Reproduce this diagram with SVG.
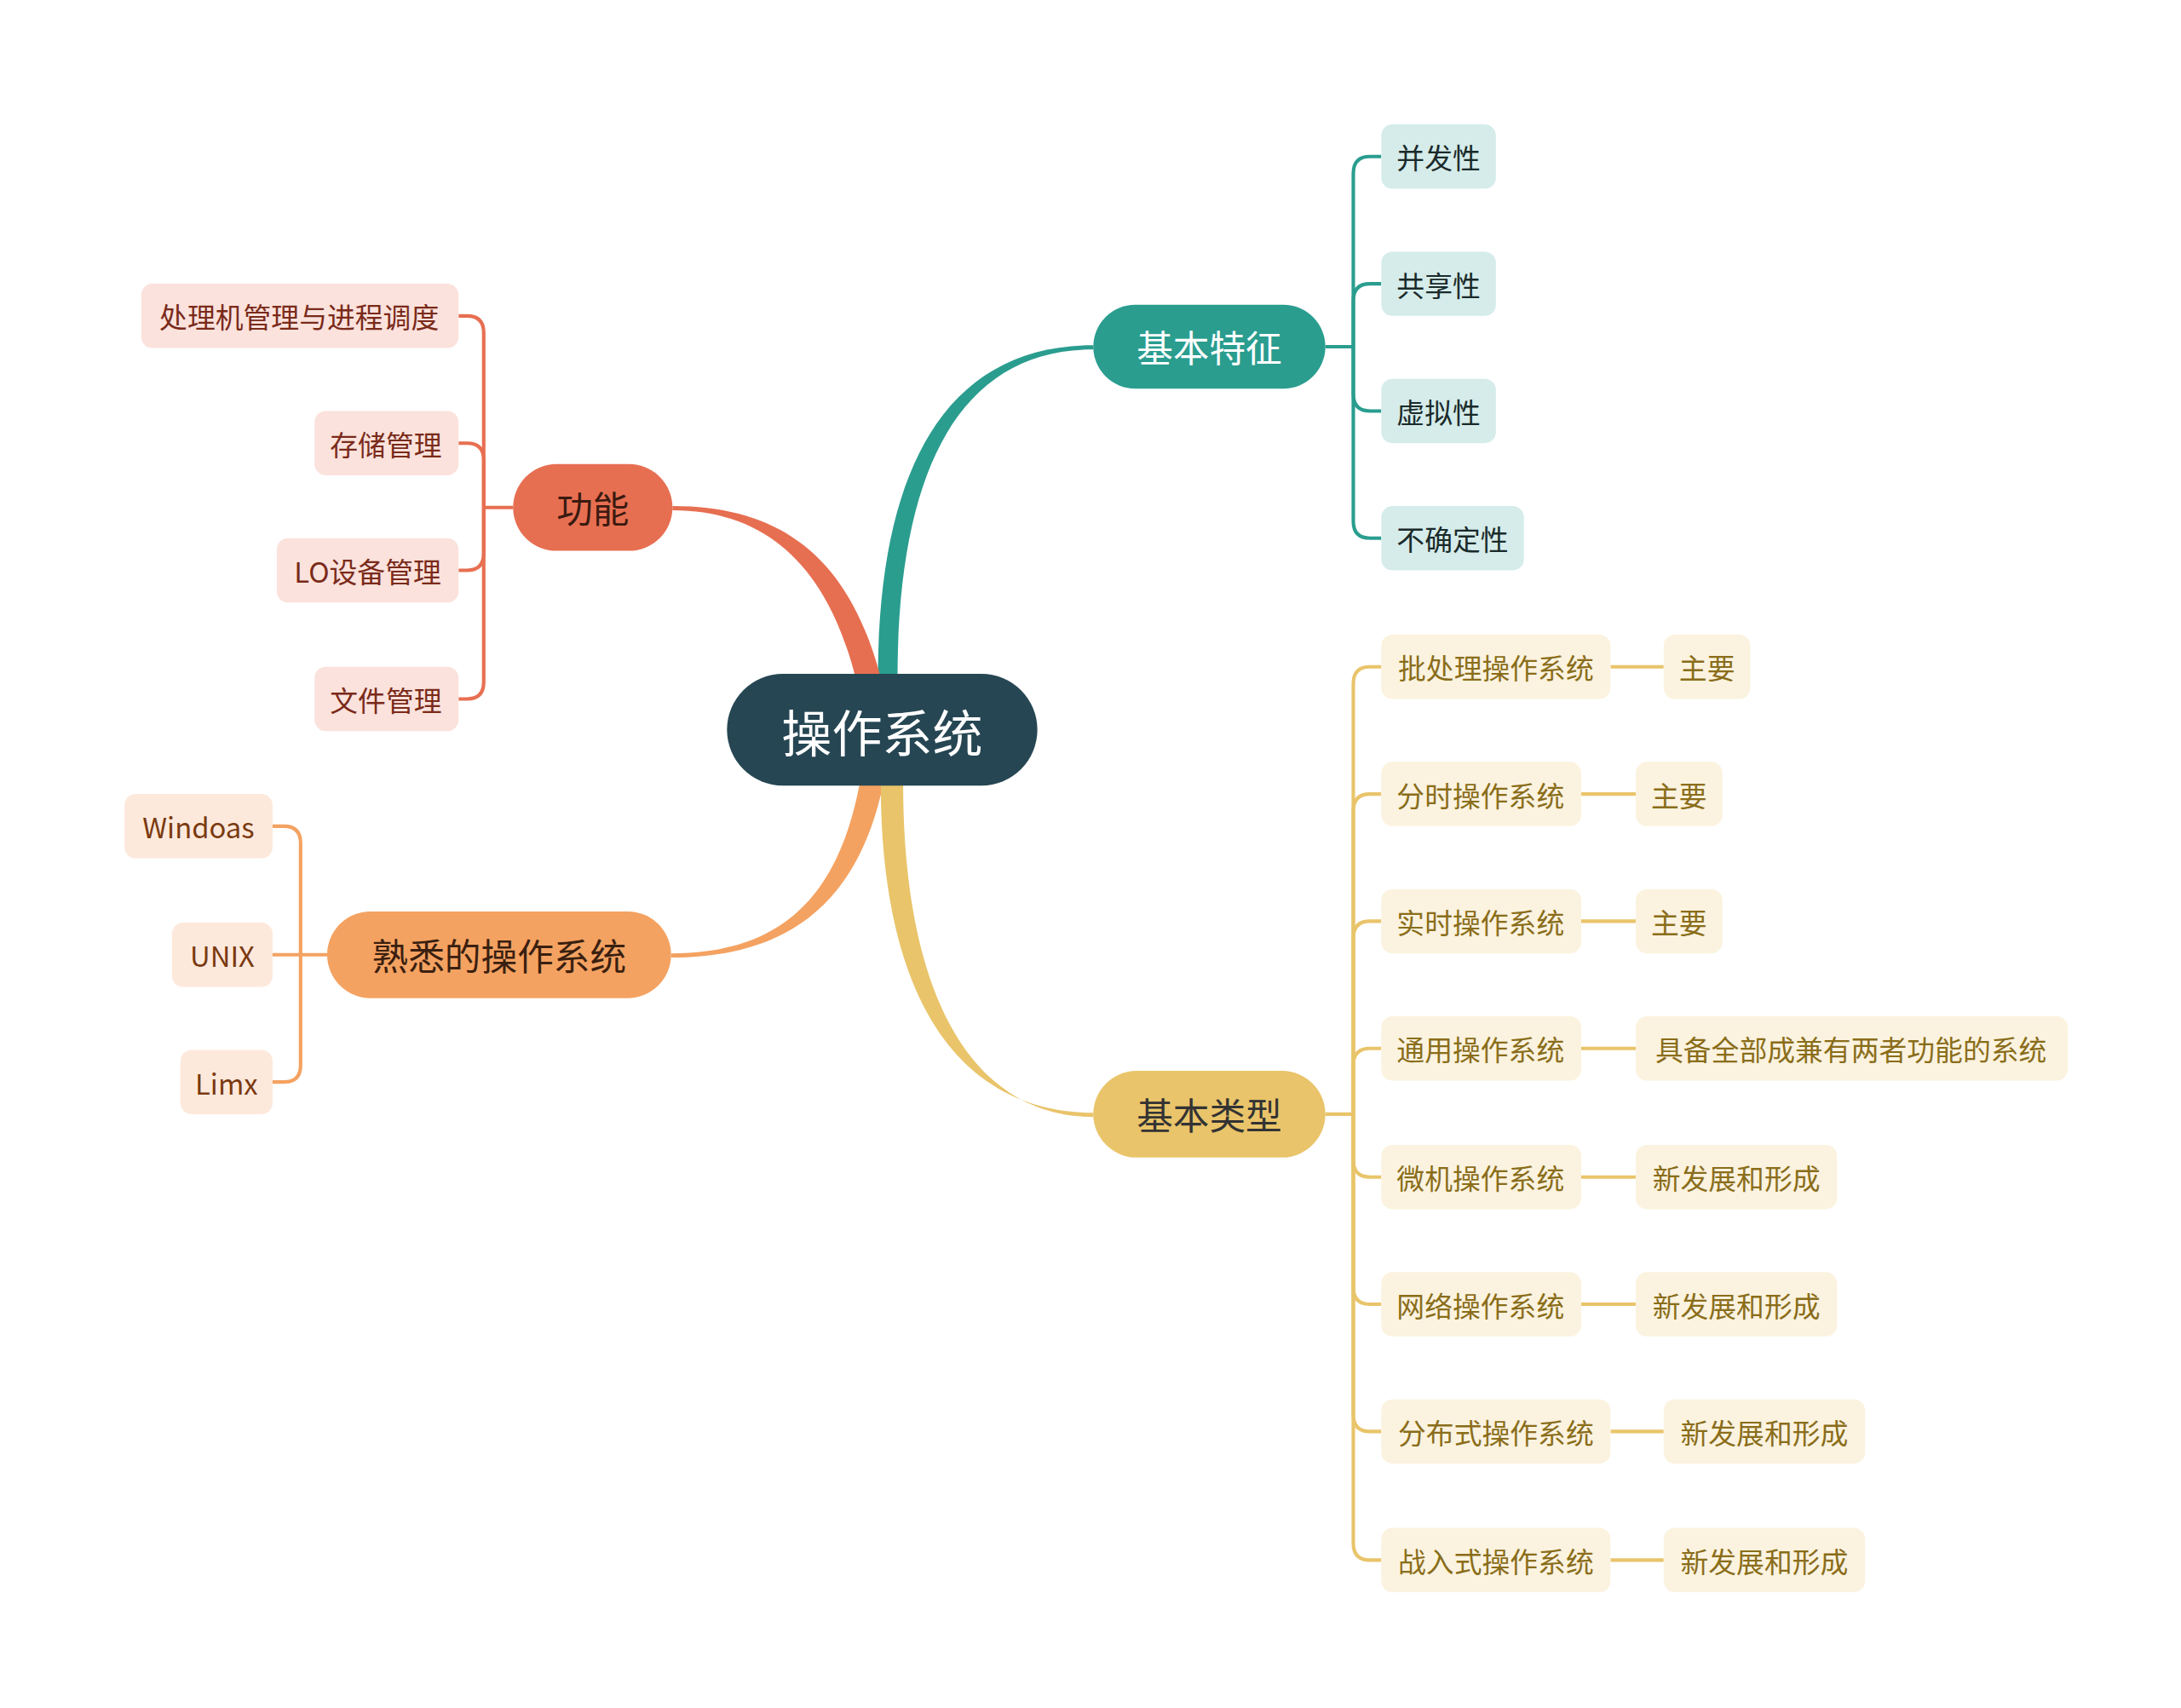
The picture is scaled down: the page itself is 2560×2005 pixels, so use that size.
<svg xmlns="http://www.w3.org/2000/svg" width="2560" height="2005" viewBox="0 0 2560 2005">
<style>
text{font-family:"Noto Sans CJK SC","Liberation Sans",sans-serif;dominant-baseline:central;text-anchor:middle}
.c{font-size:20px}
.m{font-size:26px}
.l{fill:none;stroke-width:2.5}
</style>
<rect width="2560" height="2005" fill="#fff"/>
<g transform="scale(1.641)">
<g id="connectors">
<path d="M628,485 C628,330 680,247 782,247 L782,250 C690,250 642,330 642,485 Z" fill="#2a9d8f"/>
<path d="M630,485 C608,400 560,362 481,362 L481,365 C548,365 592,405 612,485 Z" fill="#e76f51"/>
<path d="M615,560 C600,640 560,682 480,682 L480,685 C570,685 615,640 632,560 Z" fill="#f4a261"/>
<path d="M630,560 C630,720 690,796 782,796 L782,799 C700,799 646,720 646,560 Z" fill="#e9c46a"/>
<g stroke="#2a9d8f" class="l">
<path d="M948,248 H968"/>
<path d="M968,248 V124 Q968,112 980,112 H988"/>
<path d="M968,248 V215 Q968,203 980,203 H988"/>
<path d="M968,248 V282 Q968,294 980,294 H988"/>
<path d="M968,248 V373 Q968,385 980,385 H988"/>
</g>
<g stroke="#e76f51" class="l">
<path d="M367,363 H346"/>
<path d="M346,363 V238 Q346,226 334,226 H328"/>
<path d="M346,363 V329 Q346,317 334,317 H328"/>
<path d="M346,363 V396 Q346,408 334,408 H328"/>
<path d="M346,363 V488 Q346,500 334,500 H328"/>
</g>
<g stroke="#f4a261" class="l">
<path d="M234,683 H195"/>
<path d="M215,683 V603 Q215,591 203,591 H195"/>
<path d="M215,683 V762 Q215,774 203,774 H195"/>
</g>
<g stroke="#e9c46a" class="l">
<path d="M948,797 H968"/>
<path d="M968,797 V489 Q968,477 980,477 H988"/>
<path d="M968,797 V580 Q968,568 980,568 H988"/>
<path d="M968,797 V671 Q968,659 980,659 H988"/>
<path d="M968,797 V762 Q968,750 980,750 H988"/>
<path d="M968,797 V830 Q968,842 980,842 H988"/>
<path d="M968,797 V921 Q968,933 980,933 H988"/>
<path d="M968,797 V1012 Q968,1024 980,1024 H988"/>
<path d="M968,797 V1104 Q968,1116 980,1116 H988"/>
<path d="M1152,477 H1190 M1131,568 H1170 M1131,659 H1170 M1131,750 H1170 M1131,842 H1170 M1131,933 H1170 M1152,1024 H1190 M1152,1116 H1190"/>
</g>
</g>
<g id="root"><rect x="520" y="482" width="222" height="80" rx="40" fill="#264653"/><text x="631" y="522" font-size="36" fill="#fff">操作系统</text></g>
<g id="tz"><rect x="782" y="218" width="166" height="60" rx="30" fill="#2a9d8f"/><text x="865" y="248" class="m" fill="#fff">基本特征</text></g>
<g id="gn"><rect x="367" y="332" width="114" height="62" rx="31" fill="#e76f51"/><text x="424" y="363" class="m" fill="#3a1a10">功能</text></g>
<g id="sx"><rect x="234" y="652" width="246" height="62" rx="31" fill="#f4a261"/><text x="357" y="683" class="m" fill="#3a2010">熟悉的操作系统</text></g>
<g id="lx"><rect x="782" y="766" width="166" height="62" rx="31" fill="#e9c46a"/><text x="865" y="797" class="m" fill="#333">基本类型</text></g>
<g fill="#d5ecea">
<g id="t1"><rect x="988" y="89" width="82" height="46" rx="8"/><text x="1029" y="112" class="c" fill="#1a2a2a">并发性</text></g>
<g id="t2"><rect x="988" y="180" width="82" height="46" rx="8"/><text x="1029" y="203" class="c" fill="#1a2a2a">共享性</text></g>
<g id="t3"><rect x="988" y="271" width="82" height="46" rx="8"/><text x="1029" y="294" class="c" fill="#1a2a2a">虚拟性</text></g>
<g id="t4"><rect x="988" y="362" width="102" height="46" rx="8"/><text x="1039" y="385" class="c" fill="#1a2a2a">不确定性</text></g>
</g>
<g fill="#fbe2dc">
<g id="g1"><rect x="101" y="203" width="227" height="46" rx="8"/><text x="214" y="226" class="c" fill="#7a2a1a">处理机管理与进程调度</text></g>
<g id="g2"><rect x="225" y="294" width="103" height="46" rx="8"/><text x="276" y="317" class="c" fill="#7a2a1a">存储管理</text></g>
<g id="g3"><rect x="198" y="385" width="130" height="46" rx="8"/><text x="263" y="408" class="c" fill="#7a2a1a">LO设备管理</text></g>
<g id="g4"><rect x="225" y="477" width="103" height="46" rx="8"/><text x="276" y="500" class="c" fill="#7a2a1a">文件管理</text></g>
</g>
<g fill="#fde9dc">
<g id="s1"><rect x="89" y="568" width="106" height="46" rx="8"/><text x="142" y="591" class="c" fill="#7a3a10">Windoas</text></g>
<g id="s2"><rect x="123" y="660" width="72" height="46" rx="8"/><text x="159" y="683" class="c" fill="#7a3a10">UNIX</text></g>
<g id="s3"><rect x="129" y="751" width="66" height="46" rx="8"/><text x="162" y="774" class="c" fill="#7a3a10">Limx</text></g>
</g>
<g fill="#fbf3df">
<g id="b1"><rect x="988" y="454" width="164" height="46" rx="8"/><text x="1070" y="477" class="c" fill="#8a6d1a">批处理操作系统</text></g>
<g id="b1a"><rect x="1190" y="454" width="62" height="46" rx="8"/><text x="1221" y="477" class="c" fill="#8a6d1a">主要</text></g>
<g id="b2"><rect x="988" y="545" width="143" height="46" rx="8"/><text x="1059" y="568" class="c" fill="#8a6d1a">分时操作系统</text></g>
<g id="b2a"><rect x="1170" y="545" width="62" height="46" rx="8"/><text x="1201" y="568" class="c" fill="#8a6d1a">主要</text></g>
<g id="b3"><rect x="988" y="636" width="143" height="46" rx="8"/><text x="1059" y="659" class="c" fill="#8a6d1a">实时操作系统</text></g>
<g id="b3a"><rect x="1170" y="636" width="62" height="46" rx="8"/><text x="1201" y="659" class="c" fill="#8a6d1a">主要</text></g>
<g id="b4"><rect x="988" y="727" width="143" height="46" rx="8"/><text x="1059" y="750" class="c" fill="#8a6d1a">通用操作系统</text></g>
<g id="b4a"><rect x="1170" y="727" width="309" height="46" rx="8"/><text x="1324" y="750" class="c" fill="#8a6d1a">具备全部成兼有两者功能的系统</text></g>
<g id="b5"><rect x="988" y="819" width="143" height="46" rx="8"/><text x="1059" y="842" class="c" fill="#8a6d1a">微机操作系统</text></g>
<g id="b5a"><rect x="1170" y="819" width="144" height="46" rx="8"/><text x="1242" y="842" class="c" fill="#8a6d1a">新发展和形成</text></g>
<g id="b6"><rect x="988" y="910" width="143" height="46" rx="8"/><text x="1059" y="933" class="c" fill="#8a6d1a">网络操作系统</text></g>
<g id="b6a"><rect x="1170" y="910" width="144" height="46" rx="8"/><text x="1242" y="933" class="c" fill="#8a6d1a">新发展和形成</text></g>
<g id="b7"><rect x="988" y="1001" width="164" height="46" rx="8"/><text x="1070" y="1024" class="c" fill="#8a6d1a">分布式操作系统</text></g>
<g id="b7a"><rect x="1190" y="1001" width="144" height="46" rx="8"/><text x="1262" y="1024" class="c" fill="#8a6d1a">新发展和形成</text></g>
<g id="b8"><rect x="988" y="1093" width="164" height="46" rx="8"/><text x="1070" y="1116" class="c" fill="#8a6d1a">战入式操作系统</text></g>
<g id="b8a"><rect x="1190" y="1093" width="144" height="46" rx="8"/><text x="1262" y="1116" class="c" fill="#8a6d1a">新发展和形成</text></g>
</g>
</g>
</svg>
